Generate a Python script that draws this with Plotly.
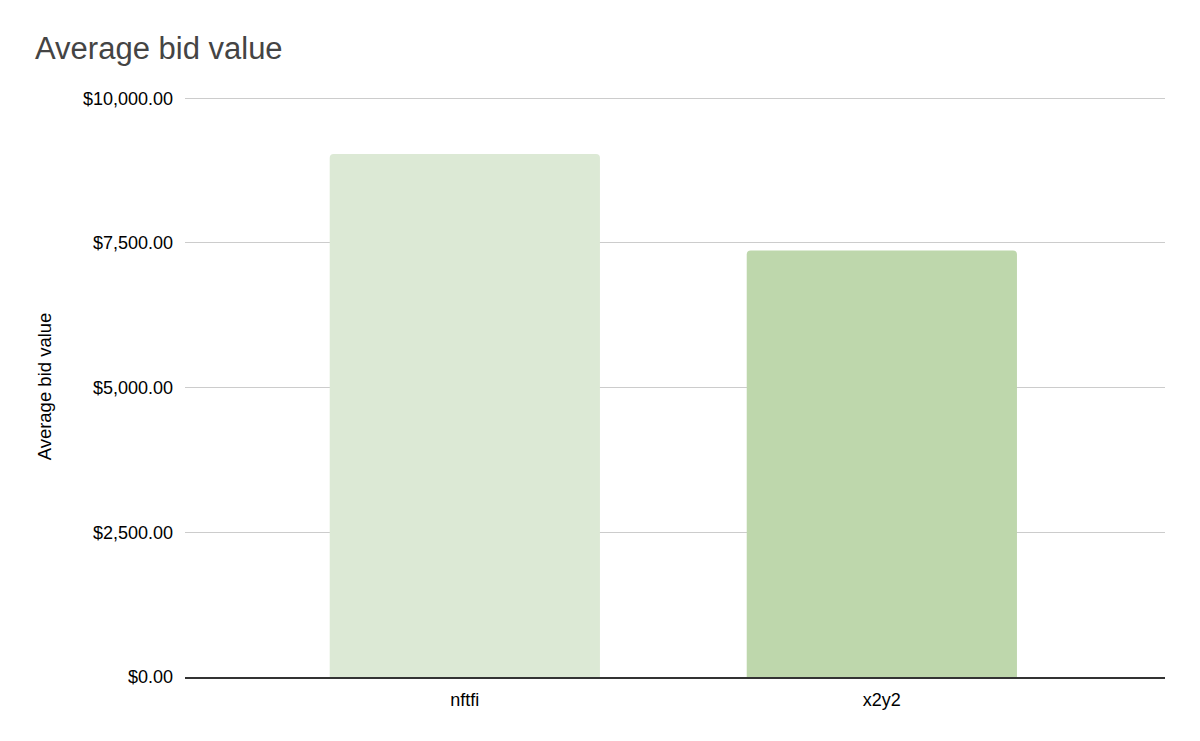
import plotly.graph_objects as go

categories = ["nftfi", "x2y2"]
values = [9038, 7369]
colors = ["#dce9d5", "#bed7ac"]
y_ticks = [0, 2500, 5000, 7500, 10000]
y_tick_labels = ["$0.00", "$2,500.00", "$5,000.00", "$7,500.00", "$10,000.00"]

fig = go.Figure(go.Bar(
    x=categories, y=values, marker=dict(color=colors, line=dict(width=0)),
    width=0.648, hoverinfo="x+y",
))

fig.update_layout(
    width=1200, height=741,
    margin=dict(l=177, r=43, t=87.7, b=71.5),
    paper_bgcolor="white", plot_bgcolor="white",
    font=dict(family="Liberation Sans, Arial, sans-serif", size=18, color="#000"),
    title=dict(text="Average bid value", x=27/1200, xanchor="left", y=1-40/741, yanchor="middle",
               font=dict(size=31, color="#444")),
    barcornerradius=4,
    showlegend=False,
)
fig.update_xaxes(
    type="category", range=[-0.671, 1.679], showgrid=False, showline=True,
    linecolor="#333", linewidth=1.5, ticks="", ticklabelstandoff=6,
    tickfont=dict(size=18, color="#000"), zeroline=False,
)
fig.update_yaxes(
    range=[0, 10040], tickvals=y_ticks, ticktext=y_tick_labels,
    showgrid=True, gridcolor="#cccccc", gridwidth=1, zeroline=False,
    showline=False, ticks="", ticklabelstandoff=11,
    tickfont=dict(size=18, color="#000"),
    title=dict(text="Average bid value", font=dict(size=18.5, color="#000"), standoff=26),
)

fig.write_html("out.html")
